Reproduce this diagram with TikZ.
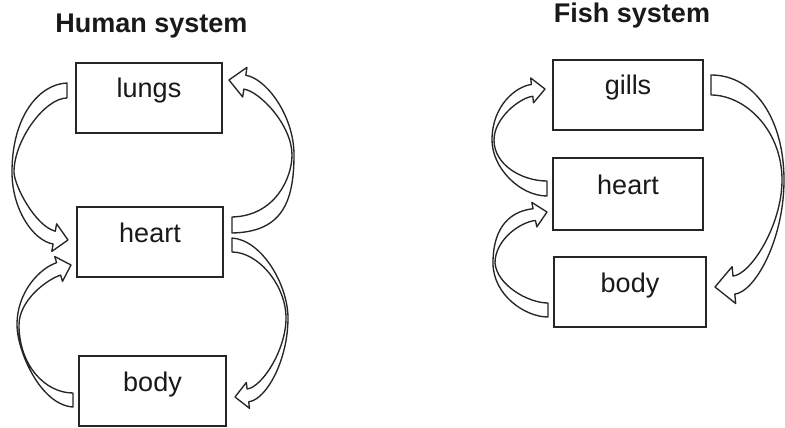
\documentclass[tikz,border=0pt]{standalone}
\usepackage{fontspec}
\setmainfont{Liberation Sans}
\begin{document}
\begin{tikzpicture}[x=1pt,y=-1pt,
  box/.style={draw=black!85, line width=1.5pt, inner sep=0pt, text height=35pt, text depth=35pt,
    minimum height=70pt, font=\fontsize{27}{30}\selectfont, text=black!90},
  ttl/.style={font=\fontsize{27}{30}\selectfont\bfseries, text=black!90, inner sep=0pt, anchor=base},
  barrow/.style={draw=black!85, line width=1.35pt, fill=white, line join=round}]
\path[fill=white, use as bounding box] (0,0) rectangle (785,428);

% titles
\node[ttl] (htitle) at (151.5,33) {Human system};
\node[ttl] (ftitle) at (632,23) {Fish system};

% human boxes
\node[box, minimum width=146pt] (hlungs) at (149,98) {lungs};
\node[box, minimum width=146pt] (hheart) at (150,242) {heart};
\node[box, minimum width=147pt] (hbody) at (152.5,391) {body};

% fish boxes
\node[box, minimum width=150pt] (fgills) at (628,95) {gills};
\node[box, minimum width=150pt, minimum height=72pt, text height=36pt, text depth=36pt] (fheart) at (628,194) {heart};
\node[box, minimum width=152pt] (fbody) at (630,292) {body};

% human: lungs -> heart (left)
\draw[barrow] (67,83) .. controls (40,84) and (12,115) .. (12,172)
  .. controls (12,210) and (33.4,240.6) .. (53.1,244)
  -- (51.8,251.4) -- (68,240) -- (56.6,223.8) -- (55.3,231.2)
  .. controls (35,226) and (14,185) .. (14,172)
  .. controls (14,140) and (45,98) .. (67,98) -- cycle;

% human: heart -> lungs (right)
\draw[barrow] (232,233) .. controls (280,232) and (294,205) .. (294,155)
  .. controls (294,115) and (265.6,78.1) .. (245.8,75.3)
  -- (246.9,67.4) -- (229,80) -- (242.7,97) -- (243.8,89.1)
  .. controls (259.6,91.3) and (292,125) .. (292,155)
  .. controls (292,178) and (275,216) .. (232,217) -- cycle;

% human: heart -> body (right)
\draw[barrow] (232,238) .. controls (262,240) and (288,285) .. (288,318)
  .. controls (288,360) and (266.5,399.6) .. (248.7,401.8)
  -- (249.5,408.3) -- (235,397) -- (246.3,382.5) -- (247.1,389)
  .. controls (262,387.2) and (286,350) .. (286,318)
  .. controls (286,285) and (258,252) .. (232,252) -- cycle;

% human: body -> heart (left)
\draw[barrow] (73,407) .. controls (40,405) and (17,350) .. (17,325)
  .. controls (17,290) and (41.5,267.5) .. (56.65,262.7)
  -- (54.7,256.5) -- (71,265) -- (62.5,281.3) -- (60.6,275.1)
  .. controls (47.3,279.3) and (19,300) .. (19,325)
  .. controls (19,365) and (45,393) .. (73,393) -- cycle;

% fish: heart -> gills (left)
\draw[barrow] (547,196) .. controls (520,196) and (492,168) .. (492,140)
  .. controls (492,105) and (516.6,86.2) .. (531.4,84.5)
  -- (530.7,78) -- (545,89) -- (533.5,102.8) -- (532.8,96.3)
  .. controls (519.9,97.7) and (494,118) .. (494,140)
  .. controls (494,165) and (522,181) .. (547,181) -- cycle;

% fish: body -> heart (left)
\draw[barrow] (548,317) .. controls (525,317) and (493,295) .. (493,263)
  .. controls (493,225) and (512,211) .. (533.1,208.7)
  -- (531.8,202.4) -- (547,212) -- (536.8,226.9) -- (535.5,220.5)
  .. controls (520,222) and (495,240) .. (495,263)
  .. controls (497,285) and (528,303) .. (548,303) -- cycle;

% fish: gills -> body (right)
\draw[barrow] (711,75) .. controls (755,75) and (784,120) .. (784,180)
  .. controls (784,240) and (754.7,292.1) .. (734.8,294.1)
  -- (735.7,303.5) -- (715,287) -- (732.1,266.7) -- (733,276.1)
  .. controls (750.9,274.3) and (782,225) .. (782,180)
  .. controls (782,130) and (745,95) .. (711,95) -- cycle;
\end{tikzpicture}
\end{document}
